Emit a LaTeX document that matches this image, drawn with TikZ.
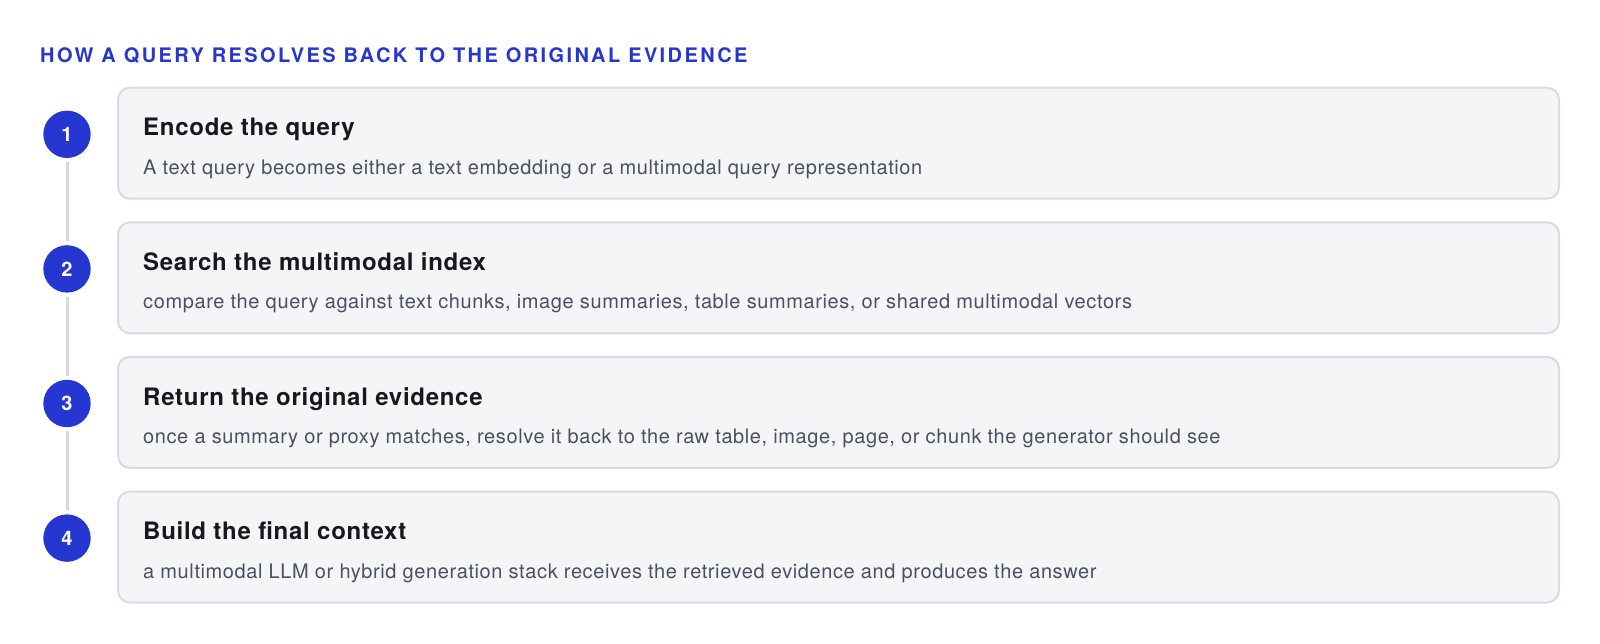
\documentclass[tikz,border=0pt]{standalone}
\usepackage{fontspec}
\setmainfont{TeX Gyre Heros}
\newfontfamily\titlefont[LetterSpace=12]{TeX Gyre Heros}
\newfontfamily\headfont[LetterSpace=3]{TeX Gyre Heros}
\newfontfamily\subfont[LetterSpace=3]{TeX Gyre Heros}
\definecolor{brandblue}{HTML}{2636D0}
\definecolor{boxfill}{HTML}{F4F5F7}
\definecolor{boxline}{HTML}{D8DBE3}
\definecolor{headtxt}{HTML}{16181D}
\definecolor{subtxt}{HTML}{4B5060}
\definecolor{railcol}{HTML}{D6D9E2}
\tikzset{
  stepcard/.style={draw=boxline, fill=boxfill, line width=2pt, rounded corners=12pt},
  stepnum/.style={circle, fill=brandblue, minimum size=47.4pt, inner sep=0pt, text=white, font=\fontsize{20}{24}\selectfont\bfseries},
  headline/.style={anchor=base west, inner sep=0pt, text=headtxt, font=\fontsize{24}{28}\selectfont\headfont\bfseries},
  subline/.style={anchor=base west, inner sep=0pt, text=subtxt, font=\fontsize{20}{24}\selectfont\subfont},
  rail/.style={draw=railcol, line width=3pt, shorten >=4pt, shorten <=4pt},
}
\begin{document}
\begin{tikzpicture}[x=1pt,y=-1pt]
\useasboundingbox (0,0) rectangle (1600,644);
\node[anchor=base west, inner sep=0pt, text=brandblue, font=\fontsize{20}{24}\selectfont\titlefont\bfseries] (title) at (40,62.3) {HOW A QUERY RESOLVES BACK TO THE ORIGINAL EVIDENCE};
\foreach \i/\head/\sub in {
 0/Encode the query/A text query becomes either a text embedding or a multimodal query representation,
 1/Search the multimodal index/compare the query against text chunks{,} image summaries{,} table summaries{,} or shared multimodal vectors,
 2/Return the original evidence/once a summary or proxy matches{,} resolve it back to the raw table{,} image{,} page{,} or chunk the generator should see,
 3/Build the final context/a multimodal LLM or hybrid generation stack receives the retrieved evidence and produces the answer}{
  \pgfmathsetmacro{\T}{86.7+134.6*\i}
  \pgfmathtruncatemacro{\n}{\i+1}
  \draw[stepcard] (118,\T+1) rectangle (1559,\T+112);
  \node[stepnum] (c\n) at (67,\T+47.6) {\n};
  \node[headline] (h\n) at (143,\T+49.3) {\head};
  \node[subline] (s\n) at (143,\T+87.5) {\sub};
}
\draw[rail] (c1.south) -- (c2.north);
\draw[rail] (c2.south) -- (c3.north);
\draw[rail] (c3.south) -- (c4.north);
\end{tikzpicture}
\end{document}
